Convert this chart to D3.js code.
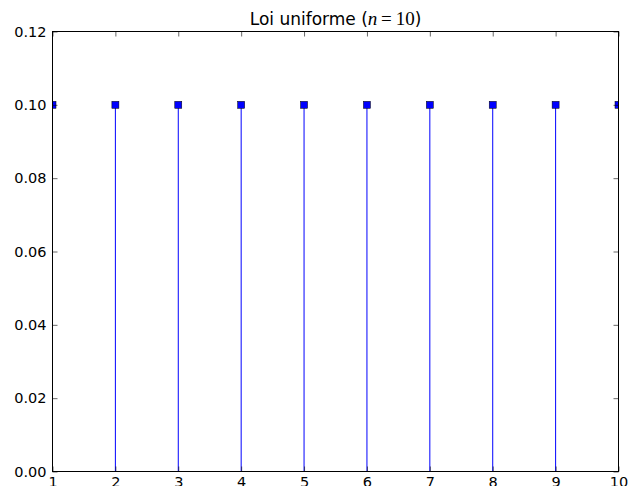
<!DOCTYPE html>
<html>
<head>
<meta charset="utf-8">
<script src="https://cdn.jsdelivr.net/npm/d3@7"></script>
<style>
  body { margin: 0; background: #fff; }
  text { font-family: "DejaVu Sans", sans-serif; }
</style>
</head>
<body>
<div class="chart"></div>
<script>
// data
const xs = [1, 2, 3, 4, 5, 6, 7, 8, 9, 10];
const probs = [0.1, 0.1, 0.1, 0.1, 0.1, 0.1, 0.1, 0.1, 0.1, 0.1];
const xTicks = [1, 2, 3, 4, 5, 6, 7, 8, 9, 10];
const yTicks = [0.00, 0.02, 0.04, 0.06, 0.08, 0.10, 0.12];

const W = 637, H = 486;
const margin = { top: 31.5, left: 52.5, bottom: 14.5, right: 18.5 };
const width = W - margin.left - margin.right;
const height = H - margin.top - margin.bottom;

const root = d3.select('.chart')
    .append('svg')
    .attr('width', W)
    .attr('height', H);

const svg = root.append('g')
    .attr('transform', `translate(${margin.left}, ${margin.top})`);

// scales
const xScale = d3.scaleLinear().domain([1, 10]).range([0, width]);
const yScale = d3.scaleLinear().domain([0, 0.12]).range([height, 0]);

svg.append('clipPath').attr('id', 'clip')
    .append('rect').attr('width', width).attr('height', height);

// stems
const plot = svg.append('g').attr('clip-path', 'url(#clip)');
const pts = xs.map((x, i) => ({ x, p: probs[i] }));

plot.selectAll('.stem')
    .data(pts)
    .enter()
    .append('line')
    .attr('class', 'stem')
    .attr('x1', d => xScale(d.x))
    .attr('x2', d => xScale(d.x))
    .attr('y1', yScale(0))
    .attr('y2', d => yScale(d.p))
    .style('stroke', '#0000ff')
    .style('stroke-width', 1);

const ms = 7;
plot.selectAll('.marker')
    .data(pts)
    .enter()
    .append('rect')
    .attr('class', 'marker')
    .attr('x', d => xScale(d.x) - ms / 2)
    .attr('y', d => yScale(d.p) - ms / 2)
    .attr('width', ms)
    .attr('height', ms)
    .style('fill', '#0000ff')
    .style('stroke', '#000')
    .style('stroke-width', 0.5);

// axes
const axisStyle = (g) => {
    g.select('.domain').remove();
    g.selectAll('.tick line').style('stroke', '#000').style('stroke-width', 0.6);
    g.selectAll('.tick text').style('font-size', '14.5px').style('fill', '#000')
        .style('font-family', '"DejaVu Sans", sans-serif');
};

svg.append('g')
    .attr('transform', `translate(0, ${height})`)
    .call(d3.axisBottom(xScale).tickValues(xTicks).tickFormat(d3.format('d'))
        .tickSizeInner(-5).tickSizeOuter(0).tickPadding(5))
    .call(axisStyle);

svg.append('g')
    .call(d3.axisTop(xScale).tickValues(xTicks).tickFormat('')
        .tickSizeInner(-5).tickSizeOuter(0))
    .call(axisStyle);

svg.append('g')
    .call(d3.axisLeft(yScale).tickValues(yTicks).tickFormat(d3.format('.2f'))
        .tickSizeInner(-5).tickSizeOuter(0).tickPadding(6))
    .call(axisStyle);

svg.append('g')
    .attr('transform', `translate(${width}, 0)`)
    .call(d3.axisRight(yScale).tickValues(yTicks).tickFormat('')
        .tickSizeInner(-5).tickSizeOuter(0))
    .call(axisStyle);

// frame
svg.append('rect')
    .attr('width', width)
    .attr('height', height)
    .style('fill', 'none')
    .style('stroke', '#000')
    .style('stroke-width', 1);

// title
const title = root.append('text')
    .attr('x', margin.left + width / 2)
    .attr('y', 25)
    .attr('text-anchor', 'middle')
    .style('font-size', '17px')
    .style('fill', '#000');
title.append('tspan').text('Loi uniforme (');
title.append('tspan').style('font-family', '"Liberation Serif", serif').style('font-style', 'italic')
    .style('font-size', '19px').text('n');
title.append('tspan').style('font-family', '"Liberation Serif", serif')
    .style('font-size', '19px').text('\u2009=\u200910');
title.append('tspan').text(')');
</script>
</body>
</html>
